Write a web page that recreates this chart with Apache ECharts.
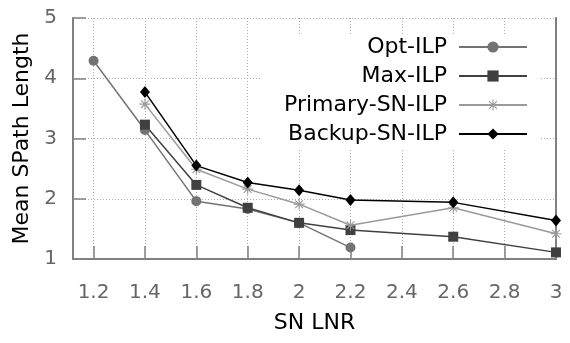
<!DOCTYPE html>
<html>
<head>
<meta charset="utf-8">
<script src="https://cdn.jsdelivr.net/npm/echarts@6/dist/echarts.min.js"></script>
<style>html,body{margin:0;padding:0;background:#fff}#c{width:570px;height:343px}</style>
</head>
<body>
<div id="c"></div>
<script>
const xTicks = [1.2, 1.4, 1.6, 1.8, 2.0, 2.2, 2.4, 2.6, 2.8, 3.0];
const xOpt = [1.2, 1.4, 1.6, 1.8, 2.0, 2.2];
const optIlp = [4.29, 3.14, 1.96, 1.83, 1.60, 1.19];
const xOthers = [1.4, 1.6, 1.8, 2.0, 2.2, 2.6, 3.0];
const maxIlp = [3.23, 2.23, 1.85, 1.60, 1.48, 1.37, 1.11];
const primarySnIlp = [3.57, 2.49, 2.16, 1.91, 1.56, 1.85, 1.42];
const backupSnIlp = [3.77, 2.55, 2.27, 2.14, 1.98, 1.94, 1.64];
const seriesNames = ['Opt-ILP', 'Max-ILP', 'Primary-SN-ILP', 'Backup-SN-ILP'];

const FONT = 'DejaVu Sans';
const asterisk = 'path://M9 0L11 0L11 20L9 20Z M0 9L20 9L20 11L0 11Z M3.71 2.29L17.71 16.29L16.29 17.71L2.29 3.71Z M17.71 3.71L3.71 17.71L2.29 16.29L16.29 2.29Z';

function pairs(xs, ys) { return xs.map((x, i) => [x, ys[i]]); }

const chart = echarts.init(document.getElementById('c'), null, {renderer: 'canvas'});
const gridLine = {show: true, lineStyle: {color: '#aaaaaa', type: [1, 2], width: 1}};
chart.setOption({
  animation: false,
  backgroundColor: '#fff',
  grid: {left: 73, right: 14, top: 18, bottom: 84},
  legend: {
    orient: 'vertical',
    align: 'right',
    right: 31,
    top: 34,
    itemWidth: 68,
    itemHeight: 14,
    itemGap: 7,
    backgroundColor: '#fff',
    padding: [2, 11, 3, 24],
    textStyle: {fontFamily: FONT, fontSize: 22, color: '#000'},
    formatter: name => name + ' ',
    data: seriesNames
  },
  xAxis: {
    type: 'value', min: 1.12, max: 3,
    name: 'SN LNR', nameLocation: 'middle', nameGap: 53,
    nameTextStyle: {fontFamily: FONT, fontSize: 22, color: '#000'},
    axisLine: {lineStyle: {color: '#808080', width: 2}},
    axisTick: {inside: true, length: 13, lineStyle: {color: '#808080', width: 1.5}, customValues: xTicks},
    axisLabel: {fontFamily: FONT, fontSize: 20, color: '#666', margin: 24, customValues: xTicks,
      formatter: v => String(+v.toFixed(1))},
    splitLine: gridLine
  },
  yAxis: [{
    type: 'value', min: 1, max: 5, interval: 1,
    name: 'Mean SPath Length', nameLocation: 'middle', nameGap: 38,
    nameTextStyle: {fontFamily: FONT, fontSize: 22, color: '#000'},
    axisLine: {show: true, lineStyle: {color: '#808080', width: 2}},
    axisTick: {show: true, inside: true, length: 13, lineStyle: {color: '#808080', width: 1.5}},
    axisLabel: {fontFamily: FONT, fontSize: 20, color: '#666', margin: 16},
    splitLine: gridLine
  }, {
    type: 'value', min: 1, max: 5, interval: 1, position: 'right',
    axisLine: {show: true, lineStyle: {color: '#808080', width: 2}},
    axisTick: {show: false}, axisLabel: {show: false}, splitLine: {show: false}
  }],
  series: [
    {name: seriesNames[0], type: 'line', data: pairs(xOpt, optIlp), symbol: 'circle', symbolSize: 10,
      itemStyle: {color: '#737373'}, lineStyle: {color: '#737373', width: 1.5}},
    {name: seriesNames[1], type: 'line', data: pairs(xOthers, maxIlp), symbol: 'rect', symbolSize: 10,
      itemStyle: {color: '#404040'}, lineStyle: {color: '#404040', width: 1.5}},
    {name: seriesNames[2], type: 'line', data: pairs(xOthers, primarySnIlp), symbol: asterisk, symbolSize: 11,
      itemStyle: {color: '#9a9a9a'}, lineStyle: {color: '#9a9a9a', width: 1.5}},
    {name: seriesNames[3], type: 'line', data: pairs(xOthers, backupSnIlp), symbol: 'diamond', symbolSize: [10, 12],
      itemStyle: {color: '#000'}, lineStyle: {color: '#000', width: 1.5}}
  ]
});
</script>
</body>
</html>
